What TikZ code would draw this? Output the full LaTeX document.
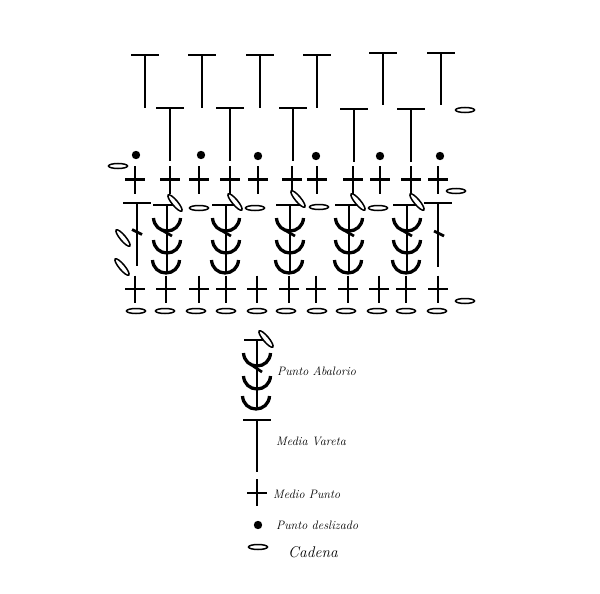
\documentclass[tikz,border=0pt]{standalone}
\newcommand{\teeat}[3]{\draw[stitch] (#1-14,#2) -- (#1+14,#2) (#1,#2) -- (#1,#3);}
\newcommand{\crossat}[2]{\draw[stitch] (#1-10,#2) -- (#1+10,#2) (#1,#2-13.5) -- (#1,#2+14);}
\newcommand{\chainat}[2]{\draw[chain] (#1,#2) ellipse [x radius=9.5, y radius=2.5];}
\newcommand{\tiltchain}[2]{\draw[chain,rotate around={-50:(#1,#2)}] (#1,#2) ellipse [x radius=10.5, y radius=2.8];}
\newcommand{\arcat}[2]{\draw[cup] (#1-13.5,#2-12) .. controls (#1-13,#2-4) and (#1-7,#2+1) .. (#1,#2+1) .. controls (#1+7,#2+1) and (#1+13,#2-4) .. (#1+13.5,#2-12);}
\newcommand{\beadat}[2]{%
  \draw[stitch] (#1-14,#2) -- (#1+13,#2) (#1,#2) -- (#1,#2+67);
  \arcat{#1}{#2+25}\arcat{#1}{#2+47}\arcat{#1-1}{#2+67}
  \draw[stitch] (#1-4.5,#2+25.5) -- (#1+5,#2+31);}
\tikzset{
  stitch/.style={line width=2.7pt,black},
  cup/.style={line width=3.3pt,black},
  chain/.style={line width=1.5pt,black,fill=white},
  legend/.style={font=\fontsize{12.2}{14}\selectfont\itshape,anchor=west,inner sep=0pt}
}
\begin{document}
\begin{tikzpicture}[x=1pt,y=-1pt]
\useasboundingbox[fill=white] (0,0) rectangle (600,594);
% top tees
\foreach \x in {145,202,260,317} {\teeat{\x}{55}{108}}
\foreach \x in {383,441} {\teeat{\x}{53}{105}}
\foreach \x in {170,230,293} {\teeat{\x}{108}{161}}
\foreach \x in {354,411} {\teeat{\x}{109}{162}}
% slip stitches
\foreach \x/\y in {136/155,201/155,258/156,316/156,380/156,440/156} {\fill (\x,\y) circle [radius=4.2];}
% upper single crochet row
\foreach \x in {135,170,199,230,258,292,317,353,380,411,438} {\crossat{\x}{179.5}}
% beaded stitches
\foreach \x in {167,226,290,349,407} {\beadat{\x}{205}}
% half-trebles at sides
\teeat{137}{203}{266}
\draw[stitch] (132,229.5) -- (142,234.5);
\teeat{438}{203}{267}
\draw[stitch] (434,231) -- (444,236);
% lower single crochet row
\foreach \x in {135,166,199,226,257,289,316,348,379,406,438} {\crossat{\x}{289}}
% chains
\foreach \x in {136,165,196,226,257,286,317,346,377,406,437} {\chainat{\x}{311}}
\foreach \x/\y in {118/166,465/110,456/191,465/301,199/208,255/208,319/207,378/208} {\chainat{\x}{\y}}
\foreach \x/\y in {175/203,235/202,298/199,358/202,417/202,123/238,122/267} {\tiltchain{\x}{\y}}
% legend
\draw[stitch] (244,340) -- (271,340) (257,340) -- (257,407);
\arcat{257}{365}\arcat{257}{388}\arcat{256}{408}
\draw[stitch] (253,366) -- (262,372);
\tiltchain{266}{339}
\teeat{257}{420}{472}
\draw[stitch] (247,493) -- (267,493) (257,479) -- (257,506);
\fill (258,525) circle [radius=4.2];
\chainat{258}{547}
\node[legend] (abalorio) at (277,371) {Punto Abalorio};
\node[legend] (vareta) at (276,441) {Media Vareta};
\node[legend] (medio) at (273,494) {Medio Punto};
\node[legend] (deslizado) at (276,525) {Punto deslizado};
\node[legend,font=\fontsize{15.5}{18}\selectfont\itshape] (cadena) at (288,552) {Cadena};
\end{tikzpicture}
\end{document}
